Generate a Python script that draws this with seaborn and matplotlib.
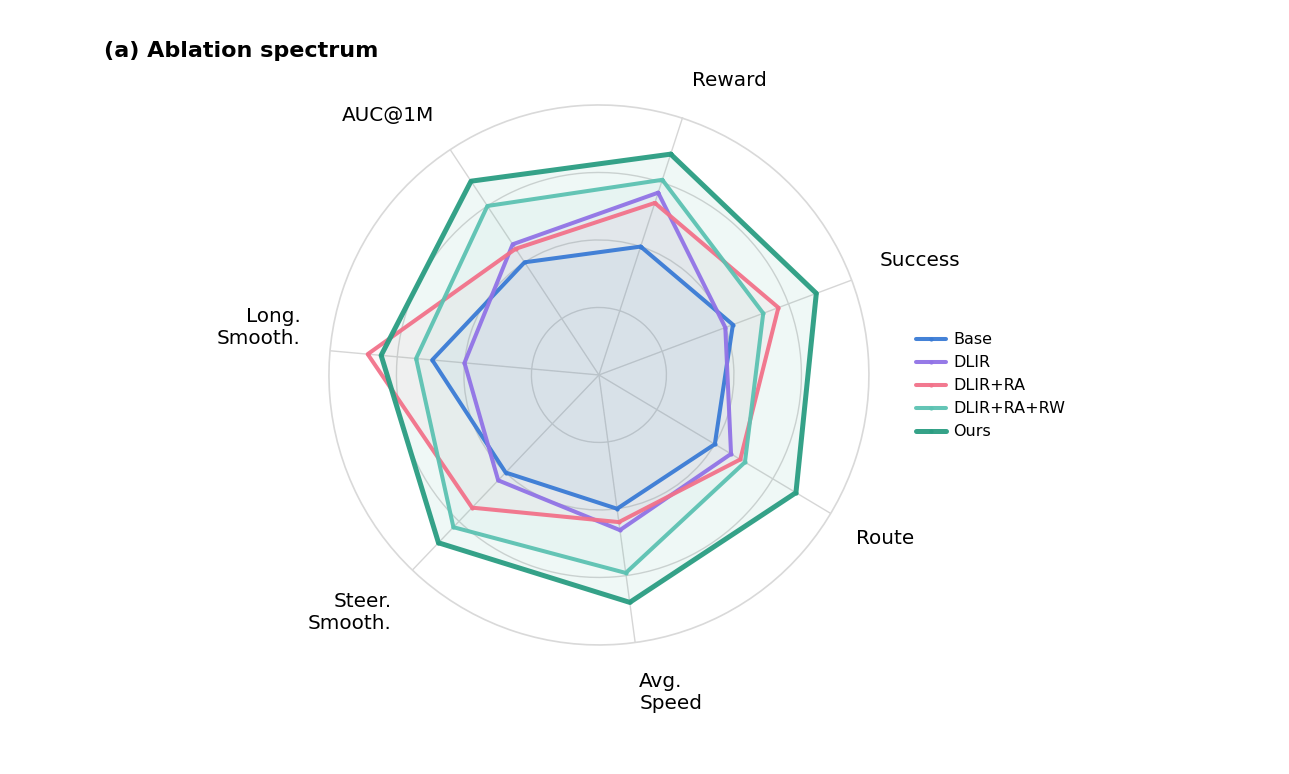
import numpy as np
import pandas as pd
import seaborn as sns
import matplotlib.pyplot as plt

# axes, clockwise starting from Reward
axis_labels = ['Reward', 'Success', 'Route', 'Avg.\nSpeed',
               'Steer.\nSmooth.', 'Long.\nSmooth.', 'AUC@1M']

methods = ['Base', 'DLIR', 'DLIR+RA', 'DLIR+RA+RW', 'Ours']
base = [0.50, 0.53, 0.50, 0.50, 0.50, 0.62, 0.50]
dlir = [0.71, 0.50, 0.57, 0.58, 0.54, 0.50, 0.58]
dlir_ra = [0.67, 0.71, 0.61, 0.55, 0.68, 0.86, 0.56]
dlir_ra_rw = [0.76, 0.65, 0.63, 0.74, 0.78, 0.68, 0.75]
ours = [0.86, 0.86, 0.85, 0.85, 0.86, 0.81, 0.86]

colors = ['#3a7bd5', '#9173e6', '#f2728a', '#5cc2b2', '#2a9d82']

sns.set_theme(style='white')
plt.rcParams['font.family'] = ['DejaVu Sans']
plt.rcParams['text.color'] = 'black'

n = len(axis_labels)
angles = np.arange(n) * 2 * np.pi / n

rows = []
for name, vals in zip(methods, [base, dlir, dlir_ra, dlir_ra_rw, ours]):
	# close the polygon
	for a, v in zip(list(angles) + [2 * np.pi], vals + [vals[0]]):
		rows.append((name, a, v))
df = pd.DataFrame(rows, columns=['Method', 'Angle', 'Score'])

fig = plt.figure(figsize=(12.89, 7.74), dpi=100)
ax = fig.add_axes([0.2552, 0.1667, 0.4189, 0.6977], projection='polar')
ax.set_theta_offset(np.deg2rad(72))
ax.set_theta_direction(-1)

for name, col in zip(methods, colors):
	sub = df[df['Method'] == name]
	lw = 3.6 if name == 'Ours' else 2.9
	sns.lineplot(data=sub, x='Angle', y='Score', sort=False, estimator=None,
		color=col, lw=lw, alpha=0.95, marker='o', markersize=3,
		markeredgewidth=0, label=name, ax=ax, zorder=3)
	fa = 0.07 if name == 'Ours' else 0.05
	ax.fill(sub['Angle'], sub['Score'], color=col, alpha=fa, lw=0, zorder=2)

ax.set_ylim(0, 1)
ax.set_yticks([0.25, 0.5, 0.75])
ax.set_yticklabels([])
ax.set_xticks(angles)
ax.set_xticklabels([])
ax.set_xlabel('')
ax.set_ylabel('')
ax.set_axisbelow(True)
ax.grid(True, color='#d6d6d6', lw=1.0)
ax.spines['polar'].set_color('#d9d9d9')
ax.spines['polar'].set_linewidth(1.2)
ax.set_facecolor('white')

# axis labels placed just outside the outer ring
for a, lab in zip(angles, axis_labels):
	math_ang = np.deg2rad(72) - a
	ha = 'left' if np.cos(math_ang) > 0 else 'right'
	va = 'bottom' if np.sin(math_ang) > 0 else 'top'
	ax.text(a, 1.11, lab, ha=ha, va=va, fontsize=14.4, color='black')

leg = ax.legend(loc='center left', bbox_to_anchor=(1.06, 0.48), frameon=False,
	fontsize=11.5, handlelength=1.9, handletextpad=0.45, labelspacing=0.5)
for t in leg.get_texts():
	t.set_color('black')

fig.text(104 / 1289, 1 - 51 / 774, '(a) Ablation spectrum', fontsize=16,
	fontweight='bold', va='center', ha='left', color='black')

fig.savefig('out.png', dpi=100)
